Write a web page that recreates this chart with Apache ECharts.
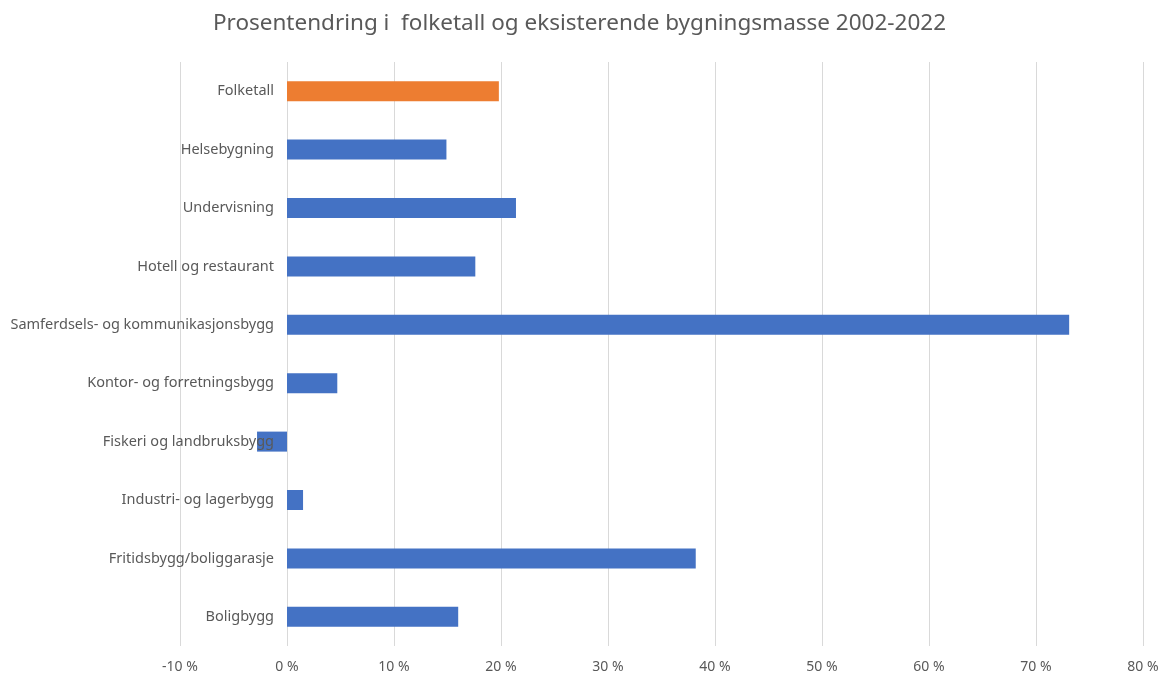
<!DOCTYPE html>
<html>
<head>
<meta charset="utf-8">
<script src="https://cdn.jsdelivr.net/npm/echarts@6/dist/echarts.min.js"></script>
<style>
  html, body { margin: 0; padding: 0; background: #fff; }
  #chart { width: 1159px; height: 674px; }
</style>
</head>
<body>
<div id="chart"></div>
<script>
// kategorier fra topp til bunn
const categories = [
  'Folketall',
  'Helsebygning',
  'Undervisning',
  'Hotell og restaurant',
  'Samferdsels- og kommunikasjonsbygg',
  'Kontor- og forretningsbygg',
  'Fiskeri og landbruksbygg',
  'Industri- og lagerbygg',
  'Fritidsbygg/boliggarasje',
  'Boligbygg'
]
// prosentendring 2002-2022
const values = [19.8, 14.9, 21.4, 17.6, 73.1, 4.7, -2.8, 1.5, 38.2, 16.0]
const highlight = 'Folketall'

const xMin = -10
const xMax = 80

const gridLeft = 180
const gridRight = 16
const chartEl = document.getElementById('chart')
const chart = echarts.init(chartEl)

// kategoriaksen skal stå ved 0 %, som i Excel
const gridWidth = chartEl.clientWidth - gridLeft - gridRight
const zeroOffset = -(0 - xMin) / (xMax - xMin) * gridWidth

const option = {
  animation: false,
  title: {
    text: 'Prosentendring i  folketall og eksisterende bygningsmasse 2002-2022',
    left: 'center',
    top: 7,
    textStyle: {
      fontFamily: 'Noto Sans',
      fontSize: 22.5,
      fontWeight: 'normal',
      color: '#595959'
    }
  },
  grid: {
    left: gridLeft,
    right: gridRight,
    top: 62,
    bottom: 28,
    outerBoundsMode: 'none',
    containLabel: false
  },
  xAxis: {
    type: 'value',
    min: xMin,
    max: xMax,
    interval: 10,
    axisLine: { show: false },
    axisTick: { show: false },
    axisLabel: {
      formatter: '{value} %',
      color: '#595959',
      fontFamily: 'Noto Sans',
      fontSize: 14,
      margin: 14
    },
    splitLine: { lineStyle: { color: '#d9d9d9', width: 1 } }
  },
  yAxis: {
    type: 'category',
    inverse: true,
    data: categories,
    z: 5,
    offset: zeroOffset,
    axisLine: { show: false, onZero: false },
    axisTick: { show: false },
    axisLabel: {
      color: '#595959',
      fontFamily: 'Noto Sans',
      fontSize: 14.5,
      margin: 13
    }
  },
  series: [{
    type: 'bar',
    barWidth: 20,
    data: values.map((v, i) => ({
      value: v,
      itemStyle: { color: categories[i] === highlight ? '#ED7D31' : '#4472C4' }
    }))
  }]
}

chart.setOption(option)
</script>
</body>
</html>
